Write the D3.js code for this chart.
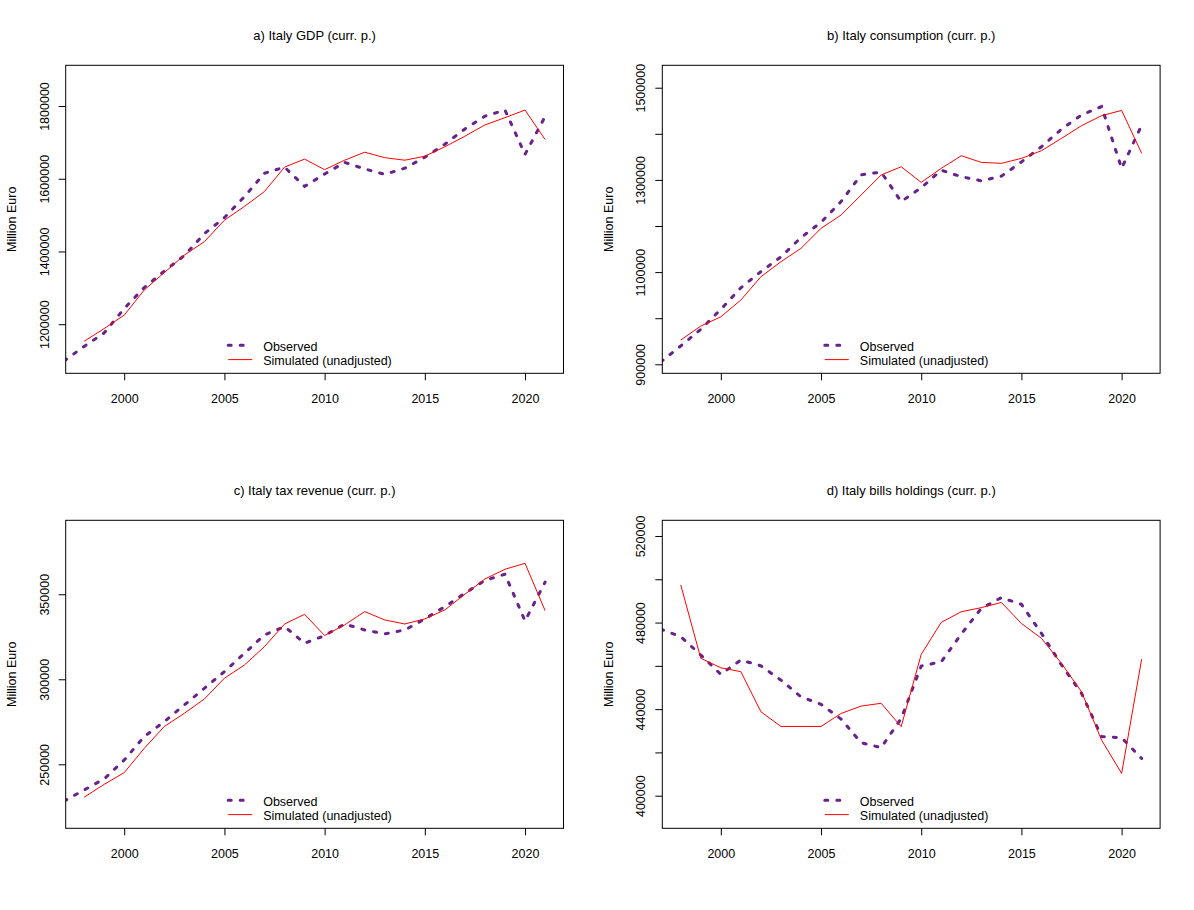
<!DOCTYPE html>
<html>
<head>
<meta charset="utf-8">
<script src="https://cdn.jsdelivr.net/npm/d3@7"></script>
<style>
  body { margin: 0; background: #fff; }
  text { font-family: "Liberation Sans", Arial, sans-serif; font-size: 12.5px; fill: #000; }
  text.title { font-size: 13px; }
</style>
</head>
<body>
<svg width="1194" height="910"></svg>
<script>
const years = d3.range(1997, 2022);
const xTicks = [2000, 2005, 2010, 2015, 2020];

const gdpObs = [1099000, 1139000, 1176000, 1243000, 1301000, 1346000, 1389000, 1449000, 1493000, 1551000, 1615000, 1632000, 1579000, 1613000, 1645000, 1627000, 1612000, 1629000, 1659000, 1695000, 1737000, 1772000, 1789000, 1667000, 1771000];
const gdpSim = [null, 1153000, 1188000, 1225000, 1294000, 1342000, 1390000, 1427000, 1486000, 1524000, 1565000, 1632000, 1654000, 1625000, 1651000, 1673000, 1658000, 1651000, 1662000, 1688000, 1717000, 1748000, 1768000, 1789000, 1708000];

const consObs = [905000, 939800, 975900, 1019300, 1066000, 1101000, 1133000, 1175000, 1208000, 1253000, 1311000, 1317000, 1253000, 1283000, 1321000, 1307000, 1298000, 1308000, 1339000, 1372000, 1410000, 1441000, 1459000, 1325000, 1419000];
const consSim = [null, 952600, 983000, 1003000, 1039400, 1090000, 1122600, 1151500, 1194900, 1223800, 1267200, 1310600, 1328600, 1294600, 1325000, 1352500, 1338000, 1335900, 1346700, 1363300, 1390100, 1417600, 1439300, 1450800, 1357600];

const taxObs = [228400, 234900, 241400, 252500, 266300, 275100, 284900, 294700, 304500, 315300, 326100, 331000, 321200, 325700, 332500, 329000, 326700, 329000, 335500, 342700, 350600, 358200, 361800, 334300, 357100];
const taxSim = [null, 230600, 238200, 245100, 259400, 272200, 280000, 288400, 300600, 308400, 319200, 332500, 338200, 325700, 332000, 339800, 334900, 332500, 335500, 340800, 350000, 359000, 364700, 368200, 340400];

const billsObs = [477000, 473500, 465000, 456100, 462700, 460000, 453400, 445700, 442200, 435400, 424500, 422200, 435700, 459900, 461900, 474700, 486600, 491500, 488400, 475000, 460400, 447300, 427300, 426800, 417200];
const billsSim = [null, 497400, 463500, 459100, 457300, 438800, 432000, 432000, 432000, 438000, 441400, 442700, 431900, 465300, 480100, 485000, 486900, 489300, 479600, 472700, 461100, 448000, 425700, 410300, 463100];

// y ticks: all tick marks, and the ones R actually labelled
const gdpTicks = [1200000, 1400000, 1600000, 1800000];
const gdpLabels = [1200000, 1400000, 1600000, 1800000];
const consTicks = [900000, 1000000, 1100000, 1200000, 1300000, 1400000, 1500000];
const consLabels = [900000, 1100000, 1300000, 1500000];
const taxTicks = [250000, 300000, 350000];
const taxLabels = [250000, 300000, 350000];
const billsTicks = [400000, 420000, 440000, 460000, 480000, 500000, 520000];
const billsLabels = [400000, 440000, 480000, 520000];

const panels = [
	{ title: "a) Italy GDP (curr. p.)", obs: gdpObs, sim: gdpSim, ticks: gdpTicks, labels: gdpLabels,
	  yDomain: [1065000, 1912000], left: 65.7, top: 65.3 },
	{ title: "b) Italy consumption (curr. p.)", obs: consObs, sim: consSim, ticks: consTicks, labels: consLabels,
	  yDomain: [880500, 1548600], left: 662.3, top: 65.3 },
	{ title: "c) Italy tax revenue (curr. p.)", obs: taxObs, sim: taxSim, ticks: taxTicks, labels: taxLabels,
	  yDomain: [212350, 393500], left: 65.7, top: 520.3 },
	{ title: "d) Italy bills holdings (curr. p.)", obs: billsObs, sim: billsSim, ticks: billsTicks, labels: billsLabels,
	  yDomain: [384940, 527250], left: 662.3, top: 520.3 }
];

const svg = d3.select('svg');
svg.append('rect').attr('width', 1194).attr('height', 910).attr('fill', '#fff');

const pw = 497.8;
const ph = 308;
const obsColor = '#68228B';

const render = (p, i) => {
	const g = svg.append('g').attr('transform', `translate(${p.left},${p.top})`);

	const xS = d3.scaleLinear().domain([1997.08, 2021.92]).range([0, pw]);
	const yS = d3.scaleLinear().domain(p.yDomain).range([ph, 0]);

	g.append('clipPath').attr('id', 'clip' + i)
		.append('rect').attr('width', pw).attr('height', ph);

	// x axis
	const xag = g.append('g')
		.attr('transform', `translate(0,${ph})`)
		.call(d3.axisBottom(xS).tickValues(xTicks).tickSize(7).tickFormat(d3.format('d')));
	xag.select('.domain').remove();
	xag.selectAll('text').attr('y', 29.5).attr('dy', 0);

	// y axis, labels rotated like R's las=0
	const yag = g.append('g')
		.call(d3.axisLeft(yS).tickValues(p.ticks).tickSize(7)
			.tickFormat(d => p.labels.includes(d) ? String(d) : ''));
	yag.select('.domain').remove();
	yag.selectAll('text')
		.attr('transform', 'rotate(-90)')
		.attr('x', 0)
		.attr('y', -17)
		.attr('dy', 0)
		.attr('text-anchor', 'middle');
	g.selectAll('.tick line').attr('stroke', '#000');

	g.append('text')
		.attr('transform', `translate(-49.7,${ph / 2}) rotate(-90)`)
		.attr('text-anchor', 'middle')
		.text('Million Euro');

	g.append('text')
		.attr('class', 'title')
		.attr('x', pw / 2)
		.attr('y', -25.5)
		.attr('text-anchor', 'middle')
		.text(p.title);

	const lines = g.append('g').attr('clip-path', `url(#clip${i})`);
	const line = d3.line()
		.defined(d => d[1] != null)
		.x(d => xS(d[0]))
		.y(d => yS(d[1]));

	lines.append('path')
		.datum(years.map((y, k) => [y, p.obs[k]]))
		.attr('d', line)
		.attr('fill', 'none')
		.attr('stroke', obsColor)
		.attr('stroke-width', 3)
		.attr('stroke-dasharray', '3,9')
		.attr('stroke-linecap', 'round');

	lines.append('path')
		.datum(years.map((y, k) => [y, p.sim[k]]))
		.attr('d', line)
		.attr('fill', 'none')
		.attr('stroke', 'red')
		.attr('stroke-width', 1);

	g.append('rect')
		.attr('width', pw)
		.attr('height', ph)
		.attr('fill', 'none')
		.attr('stroke', '#000')
		.attr('stroke-width', 1);

	// legend, bottom centre, no box
	const lg = g.append('g').attr('transform', `translate(162.5,${ph})`);
	lg.append('line')
		.attr('x1', 0).attr('x2', 24).attr('y1', -28).attr('y2', -28)
		.attr('stroke', obsColor).attr('stroke-width', 3)
		.attr('stroke-dasharray', '3,9').attr('stroke-linecap', 'round');
	lg.append('line')
		.attr('x1', 0).attr('x2', 24).attr('y1', -13.7).attr('y2', -13.7)
		.attr('stroke', 'red').attr('stroke-width', 1);
	lg.append('text').attr('x', 35).attr('y', -22.3).text('Observed');
	lg.append('text').attr('x', 35).attr('y', -8.5).text('Simulated (unadjusted)');
};

panels.forEach(render);
</script>
</body>
</html>
